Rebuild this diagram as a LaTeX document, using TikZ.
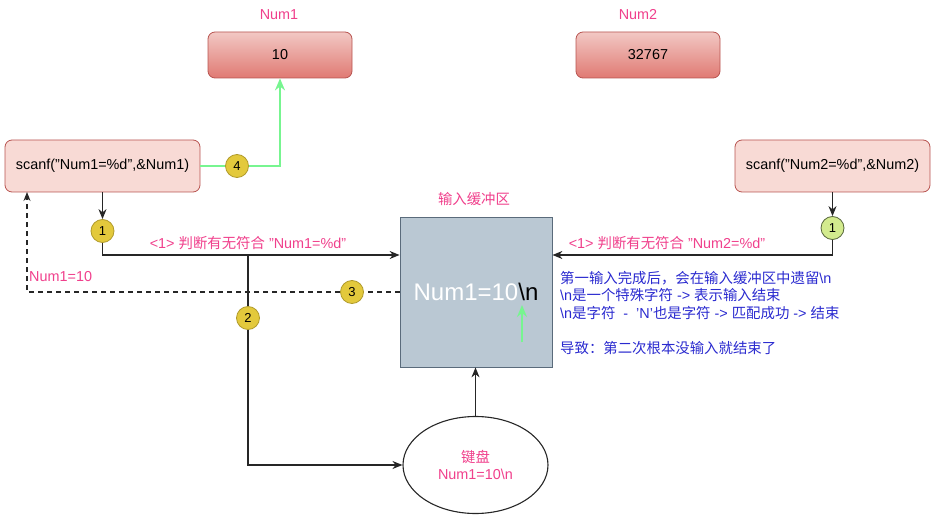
\documentclass[tikz,border=0pt]{standalone}
\usepackage{fontspec}
\setmainfont{Liberation Sans}
\newfontfamily\cjk{Noto Sans CJK SC}
\usetikzlibrary{arrows.meta,shapes.geometric}
\definecolor{pinktxt}{HTML}{F0408C}
\definecolor{bluetxt}{HTML}{2A2ACF}
\definecolor{boxfill}{HTML}{F8DAD5}
\definecolor{boxborder}{HTML}{B85450}
\definecolor{vartop}{HTML}{F2C8C4}
\definecolor{varbot}{HTML}{E07A73}
\definecolor{badgefill}{HTML}{E3C93C}
\definecolor{badgeborder}{HTML}{B09A2A}
\definecolor{gbadgefill}{HTML}{D3EB8E}
\definecolor{gbadgeborder}{HTML}{55653A}
\definecolor{greenline}{HTML}{77F590}
\definecolor{buffill}{HTML}{BAC8D3}
\definecolor{bufborder}{HTML}{5A6B7B}
\newcommand{\dq}{\symbol{34}}
\newcommand{\sq}{\symbol{39}}
\tikzset{
  fs/.style={font=\fontsize{14.4}{17.5}\selectfont},
  scanbox/.style={draw=boxborder, rounded corners=7pt, fill=boxfill, line width=0.8pt,
    minimum width=195pt, minimum height=52pt, inner sep=0pt, fs},
  varbox/.style={draw=boxborder, rounded corners=7pt, top color=vartop, bottom color=varbot,
    line width=0.8pt, minimum width=144pt, minimum height=46pt, inner sep=0pt, fs},
  badge/.style={circle, draw=badgeborder, fill=badgefill, line width=0.8pt, minimum size=23pt,
    inner sep=0pt, font=\fontsize{13}{15}\selectfont},
  gbadge/.style={badge, draw=gbadgeborder, fill=gbadgefill},
  lbl/.style={text=pinktxt, fs, inner sep=0pt},
  conn/.style={line width=1.1pt, draw=black!85, -{Stealth[length=10pt,width=8pt]}},
  plain/.style={line width=1.1pt, draw=black!85},
  gconn/.style={line width=2pt, draw=greenline, -{Stealth[length=12pt,width=10pt]}},
  dconn/.style={line width=1.1pt, draw=black!85, dash pattern=on 5pt off 4pt, -{Stealth[length=9pt,width=7pt]}}
}
\begin{document}
\begin{tikzpicture}[x=1pt,y=-1pt]
\useasboundingbox (0,0) rectangle (938,524);
% variable boxes
\node[lbl] (num1lbl) at (279,15) {Num1};
\node[varbox] (num1) at (280,55) {10};
\node[lbl] (num2lbl) at (638,15) {Num2};
\node[varbox] (num2) at (648,55) {32767};
% scanf boxes
\node[scanbox] (scan1) at (102.5,166) {scanf(\dq Num1=\%d\dq,\&Num1)};
\node[scanbox] (scan2) at (832.5,166) {scanf(\dq Num2=\%d\dq,\&Num2)};
% buffer
\node[lbl] (buflbl) at (474,199) {\cjk 输入缓冲区};
\node[draw=bufborder, fill=buffill, line width=0.8pt, minimum width=152pt, minimum height=150pt,
      inner sep=0pt, font=\fontsize{24}{28}\selectfont] (buf) at (476,292)
      {\textcolor{white}{Num1=10}\textbackslash n};
% keyboard
\node[ellipse, draw=black!85, line width=1.1pt, minimum width=145pt, minimum height=97pt,
      inner sep=0pt, align=center, text=pinktxt, fs] (kb) at (475.5,465)
      {{\cjk 键盘}\\Num1=10\textbackslash n};
% badges
\node[badge] (b1) at (102.5,231) {1};
\node[badge] (b2) at (248,318) {2};
\node[badge] (b3) at (352,292) {3};
\node[badge] (b4) at (237,166) {4};
\node[gbadge] (g1) at (832.5,228) {1};
% helper coordinates
\coordinate (c1) at (102.5,255);
\coordinate (c2) at (248,255);
\coordinate (c3) at (248,465);
\coordinate (c4) at (27,292);
\coordinate (c5) at (27,192);
\coordinate (c6) at (832.5,255);
\coordinate (c7) at (280,166);
\coordinate (ga) at (522,342);
\coordinate (gb) at (522,305);
% connectors
\draw[conn] (scan1.south) -- (b1.north);
\draw[conn] (b1.south) -- (c1) -- (c1 -| buf.west);
\draw[plain] (c2) -- (b2.north);
\draw[conn] (b2.south) -- (c3) -- (kb.west);
\draw[conn] (kb.north) -- (kb.north |- buf.south);
\draw[plain, dash pattern=on 5pt off 4pt] (buf.west |- c4) -- (b3.east);
\draw[dconn] (b3.west) -- (c4) -- (c5);
\draw[conn] (scan2.south) -- (g1.north);
\draw[conn] (g1.south) -- (c6) -- (c6 -| buf.east);
\draw[line width=2pt, draw=greenline] (scan1.east) -- (b4.west);
\draw[gconn] (b4.east) -- (c7) -- (num1.south);
\draw[gconn] (ga) -- (gb);
% labels
\node[lbl] (l1) at (248,243) {<1> {\cjk 判断有无符合} \dq Num1=\%d\dq};
\node[lbl] (l2) at (667,243) {<1> {\cjk 判断有无符合} \dq Num2=\%d\dq};
\node[lbl, anchor=west] (l3) at (29,277) {Num1=10};
\node[anchor=north west, inner sep=0pt, align=left, text=bluetxt, fs] (note) at (560,271)
  {{\cjk 第一输入完成后，会在输入缓冲区中遗留}\textbackslash n\\
   \textbackslash n{\cjk 是一个特殊字符} -> {\cjk 表示输入结束}\\
   \textbackslash n{\cjk 是字符}\ \ -\ \ \sq N\sq{\cjk 也是字符} -> {\cjk 匹配成功} -> {\cjk 结束}\\[17.5pt]
   {\cjk 导致：第二次根本没输入就结束了}};
\end{tikzpicture}
\end{document}
